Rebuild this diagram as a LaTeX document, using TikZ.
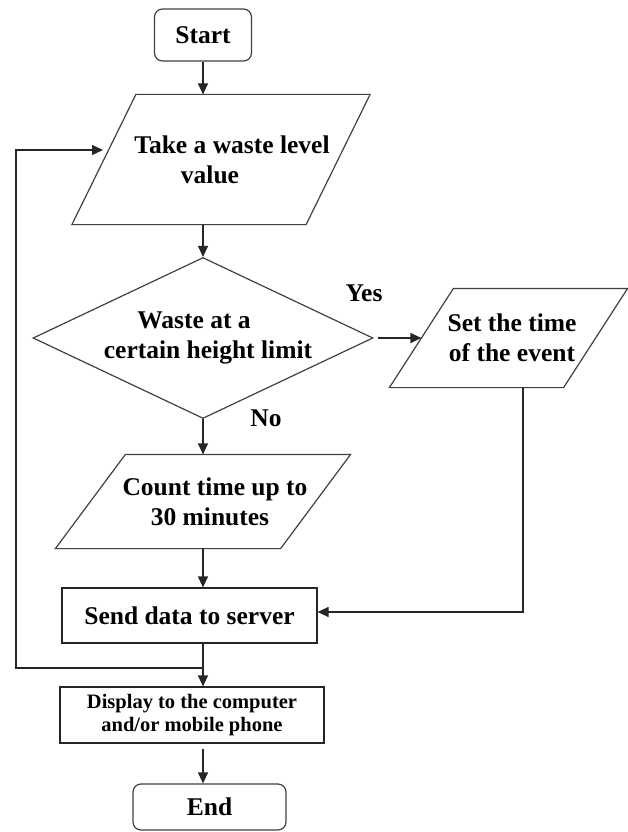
\documentclass[tikz,border=0pt]{standalone}
\usepackage{fontspec}
\setmainfont{Liberation Serif}
\usetikzlibrary{shapes.geometric,arrows.meta}
\begin{document}
\begin{tikzpicture}[x=1pt,y=-1pt,line width=1.2pt,
  every node/.style={font=\bfseries\fontsize{25.5}{30}\selectfont, text=black, inner sep=2pt, align=center},
  term/.style={draw=black!75, rectangle, rounded corners=8pt},
  proc/.style={draw=black!85, rectangle},
  iobody/.style={rectangle, draw=none},
  ioline/.style={draw=black!75, line join=miter},
  decis/.style={draw=black!75, diamond, shape aspect=2.1, inner sep=0pt},
  arr/.style={draw=black!85, -{Triangle[length=11pt,width=10pt]}}]
\useasboundingbox (0,0) rectangle (628,832);

\node[term, minimum width=97pt, minimum height=52pt] (start) at (203,35) {Start};
\node[iobody, minimum width=233pt, minimum height=129pt] (take) at (221,159.5) {\hspace*{22pt}Take a waste level\\value\hspace*{22pt}};
\draw[ioline] ([xshift=32pt]take.north west) -- ([xshift=32pt]take.north east) -- ([xshift=-32pt]take.south east) -- ([xshift=-32pt]take.south west) -- cycle;
\node[decis, minimum width=340pt, minimum height=161pt] (dec) at (203,338) {Waste at a\hspace*{18pt}\\\hspace*{10pt}certain height limit};
\node[iobody, minimum width=173pt, minimum height=98pt] (event) at (508.5,338) {\hspace*{7pt}Set the time\\\hspace*{7pt}of the event};
\draw[ioline] ([xshift=32pt]event.north west) -- ([xshift=32pt]event.north east) -- ([xshift=-32pt]event.south east) -- ([xshift=-32pt]event.south west) -- cycle;
\node[iobody, minimum width=224pt, minimum height=93pt] (count) at (203,501.5) {\hspace*{24pt}Count time up to\\\hspace*{14pt}30 minutes};
\draw[ioline] ([xshift=35pt]count.north west) -- ([xshift=35pt]count.north east) -- ([xshift=-35pt]count.south east) -- ([xshift=-35pt]count.south west) -- cycle;
\node[proc, minimum width=255pt, minimum height=55pt] (send) at (189.5,615.5) {Send data to server};
\node[proc, minimum width=264pt, minimum height=56pt, font=\bfseries\fontsize{20.5}{22.5}\selectfont] (disp) at (192,715) {Display to the computer\\and/or mobile phone};
\node[term, minimum width=153pt, minimum height=46pt] (fin) at (209.5,807) {End};
\node (yes) at (364,293) {Yes};
\node (no) at (266,418) {No};

\coordinate (j) at (203,668);
\coordinate (loopl) at (16,150);
\coordinate (looptip) at (103,150);

\draw[arr] (start) -- (start |- take.north);
\draw[arr] (take.south -| dec.north) -- (dec.north);
\draw[arr, shorten <=4pt] (dec.east) -- (event.west);
\draw[arr] (dec.south) -- (dec.south |- count.north);
\draw[arr] (count.south) -- (count.south |- send.north);
\draw[arr] ([xshift=14.5pt]event.south) |- ([yshift=3.5pt]send.east);
\draw[arr] (count.south |- send.south) -- (count.south |- disp.north);
\draw[arr] (j) -| (loopl) -- (looptip);
\draw[arr, shorten <=5pt] (count.south |- disp.south) -- (count.south |- fin.north);
\end{tikzpicture}
\end{document}
